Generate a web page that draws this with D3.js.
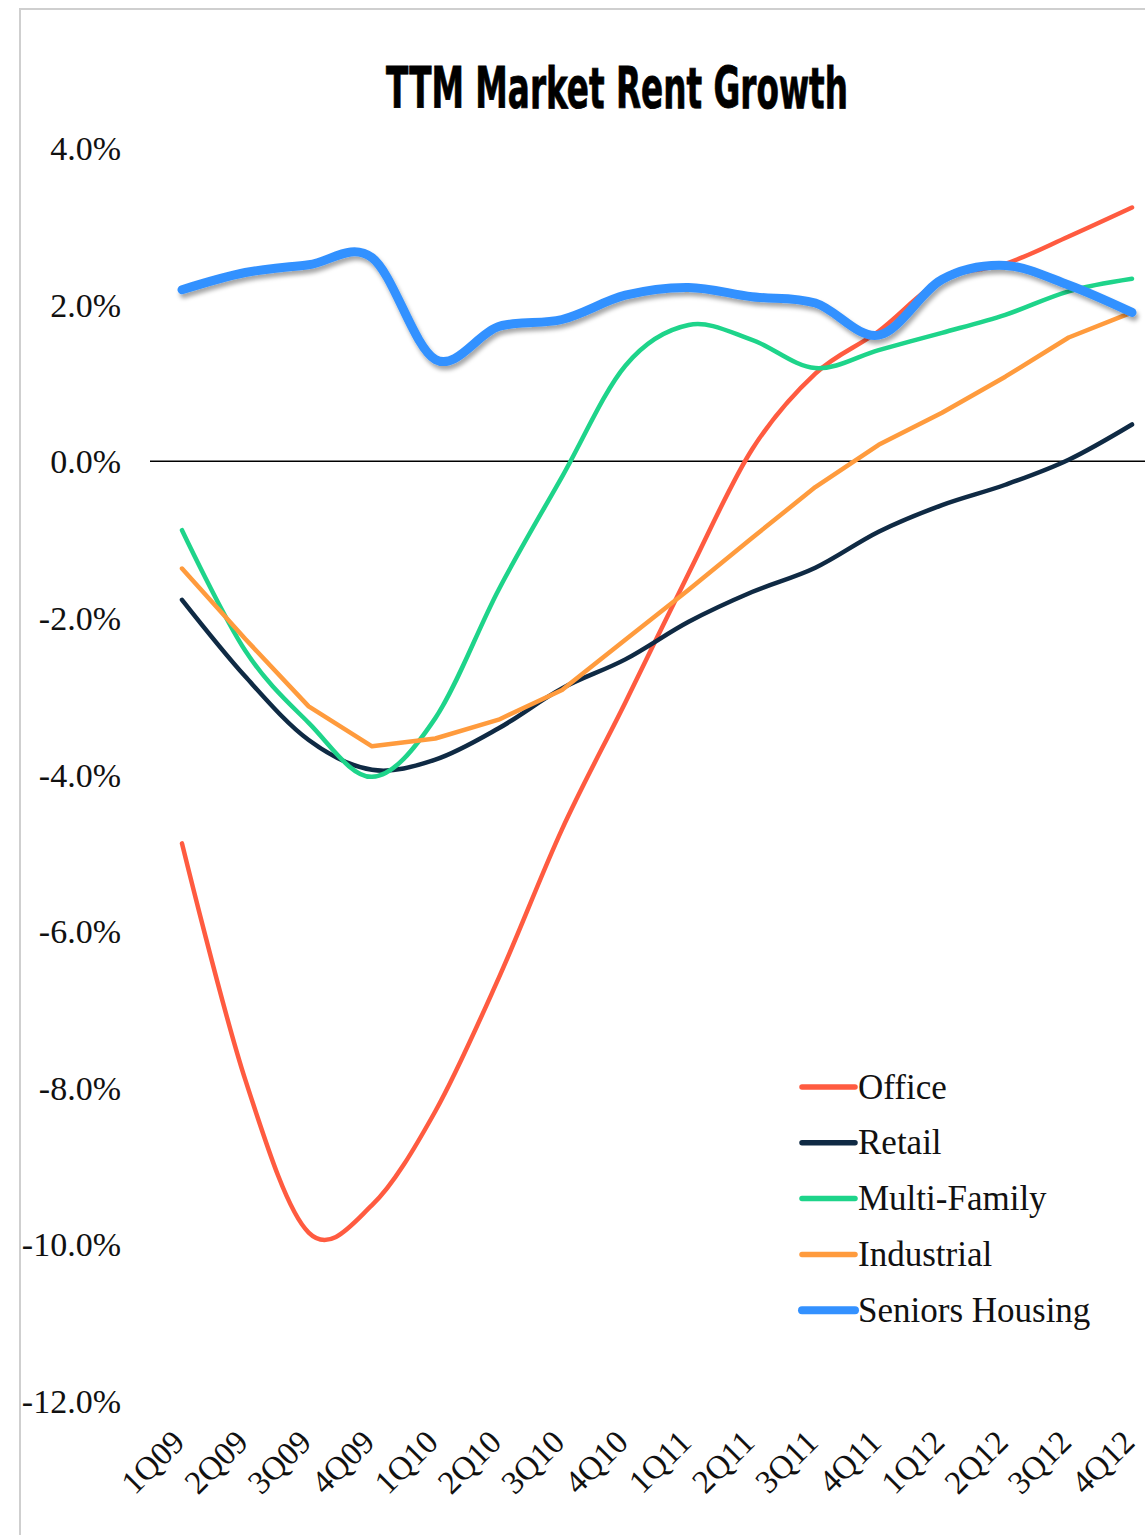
<!DOCTYPE html>
<html>
<head>
<meta charset="utf-8">
<script src="https://cdn.jsdelivr.net/npm/d3@7/dist/d3.min.js"></script>
<style>
  html, body { margin: 0; padding: 0; background: #fff; }
  svg { display: block; }
</style>
</head>
<body>
<svg id="chart" width="1145" height="1535"></svg>
<script>
// Quarterly trailing-twelve-month rent growth, %
const quarters = ["1Q09","2Q09","3Q09","4Q09","1Q10","2Q10","3Q10","4Q10",
                  "1Q11","2Q11","3Q11","4Q11","1Q12","2Q12","3Q12","4Q12"];
const office       = [-4.88,-7.9,-9.85,-9.5,-8.3,-6.6,-4.7,-3.08,-1.43,0.15,1.12,1.66,2.32,2.52,2.87,3.24];
const retail       = [-1.77,-2.75,-3.56,-3.94,-3.81,-3.41,-2.9,-2.53,-2.05,-1.67,-1.36,-0.9,-0.56,-0.3,0.02,0.47];
const multiFamily  = [-0.88,-2.42,-3.34,-4.03,-3.28,-1.64,-0.2,1.22,1.74,1.55,1.19,1.42,1.64,1.87,2.17,2.33];
const industrial   = [-1.37,-2.27,-3.13,-3.64,-3.54,-3.3,-2.92,-2.28,-1.64,-0.98,-0.33,0.21,0.62,1.08,1.58,1.9];
const seniors      = [2.19,2.41,2.51,2.6,1.3,1.72,1.81,2.12,2.22,2.1,2.02,1.61,2.32,2.5,2.25,1.9];
const seriesNames  = ["Office","Retail","Multi-Family","Industrial","Seniors Housing"];
const yTicks       = [-12,-10,-8,-6,-4,-2,0,2,4];

const series = [
  { name: seriesNames[0], values: office,      color: "#FF5B40", width: 4.5, smooth: true },
  { name: seriesNames[1], values: retail,      color: "#0F2A44", width: 4.5, smooth: true },
  { name: seriesNames[2], values: multiFamily, color: "#1ED48A", width: 4.5, smooth: true },
  { name: seriesNames[3], values: industrial,  color: "#FF9B3D", width: 4.5, smooth: false },
  { name: seriesNames[4], values: seniors,     color: "#3391FF", width: 9,   smooth: true, shadow: true }
];

const svg = d3.select("#chart");
const serif = "'Liberation Serif', 'Times New Roman', serif";

// drop shadow used by the heavy line
const defs = svg.append("defs");
const f = defs.append("filter").attr("id", "shadow")
  .attr("x", "-5%").attr("y", "-20%").attr("width", "110%").attr("height", "140%");
f.append("feDropShadow").attr("dx", 2).attr("dy", 4).attr("stdDeviation", 2.2)
  .attr("flood-color", "#000").attr("flood-opacity", 0.35);

// outer frame (left and top edges)
svg.append("path")
  .attr("d", "M20,1535 V9 H1145")
  .attr("fill", "none").attr("stroke", "#cfcfcf").attr("stroke-width", 2);

// title
const title = svg.append("text")
  .attr("x", 0).attr("y", 0)
  .attr("font-family", "'Liberation Sans Narrow', 'DejaVu Sans Condensed', 'Roboto', sans-serif")
  .attr("font-weight", 700)
  .attr("font-size", 57)
  .attr("text-anchor", "middle")
  .attr("fill", "#000")
  .attr("stroke", "#000").attr("stroke-width", 0.8)
  .text("TTM Market Rent Growth");
const tw = title.node().getComputedTextLength();
title.attr("transform", `translate(617,108) scale(${462 / tw},1)`);

// scales
const x = d3.scalePoint().domain(quarters).range([182, 1132]);
const y = d3.scaleLinear().domain([-12, 4]).range([1401, 148]);

// y axis labels
const yAxis = svg.append("g")
  .attr("transform", "translate(121,0)")
  .call(d3.axisLeft(y).tickValues(yTicks).tickSize(0).tickPadding(0)
    .tickFormat(d => (d < 0 ? "-" : "") + Math.abs(d).toFixed(1) + "%"));
yAxis.select(".domain").remove();
yAxis.selectAll("text")
  .attr("font-family", serif).attr("font-size", 34).attr("fill", "#111")
  .attr("dy", "0.34em");

// x axis labels, rotated
const xAxis = svg.append("g")
  .attr("transform", "translate(0,1444)")
  .call(d3.axisBottom(x).tickSize(0).tickPadding(0));
xAxis.select(".domain").remove();
xAxis.selectAll("text")
  .attr("font-family", serif).attr("font-size", 33).attr("fill", "#111")
  .attr("text-anchor", "end")
  .attr("y", 0).attr("dy", 0)
  .attr("transform", "translate(4,0) rotate(-45)");

// zero line
svg.append("line")
  .attr("x1", 150).attr("x2", 1145)
  .attr("y1", y(0)).attr("y2", y(0))
  .attr("stroke", "#000").attr("stroke-width", 1.6);

// series lines
series.forEach(s => {
  const line = d3.line()
    .x((d, i) => x(quarters[i]))
    .y(d => y(d))
    .curve(s.smooth ? d3.curveCardinal.tension(0) : d3.curveLinear);
  svg.append("path")
    .datum(s.values)
    .attr("d", line)
    .attr("fill", "none")
    .attr("stroke", s.color)
    .attr("stroke-width", s.width)
    .attr("stroke-linecap", "round")
    .attr("stroke-linejoin", "round")
    .attr("filter", s.shadow ? "url(#shadow)" : null);
});

// legend
const legend = svg.append("g").attr("transform", "translate(800,1087)");
series.forEach((s, i) => {
  const g = legend.append("g").attr("transform", `translate(0,${i * 55.8})`);
  g.append("line")
    .attr("x1", 2).attr("x2", 55).attr("y1", 0).attr("y2", 0)
    .attr("stroke", s.color)
    .attr("stroke-width", s.shadow ? 8 : 5.5)
    .attr("stroke-linecap", "round");
  g.append("text")
    .attr("x", 58).attr("y", 0).attr("dy", "0.33em")
    .attr("font-family", serif).attr("font-size", 35).attr("fill", "#111")
    .text(s.name);
});
</script>
</body>
</html>
